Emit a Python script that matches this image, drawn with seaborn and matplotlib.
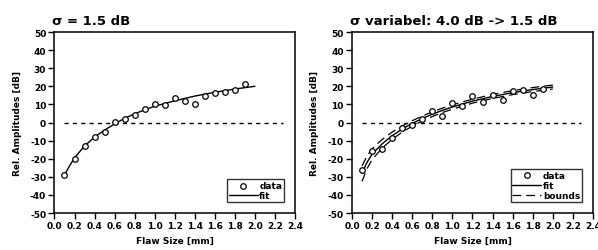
import matplotlib
matplotlib.use('Agg')
import matplotlib.pyplot as plt
import seaborn as sns
import pandas as pd

# measured data (flaw size in mm, relative amplitude in dB)
flaw_size = [0.1, 0.2, 0.3, 0.4, 0.5, 0.6, 0.7, 0.8, 0.9, 1.0,
             1.1, 1.2, 1.3, 1.4, 1.5, 1.6, 1.7, 1.8, 1.9]
amp_left = [-29, -20, -13, -8, -5.3, 0.5, 2.2, 3.9, 7.4, 10,
            9.7, 13.7, 11.7, 10.3, 14.8, 16.1, 17.0, 18.0, 21.5]
amp_right = [-26.3, -15.7, -14.5, -8.7, -3.1, -1.3, 2.2, 6.4, 3.6, 10.7,
             9.0, 14.4, 11.3, 15.0, 12.2, 17.4, 18.0, 15.2, 18.3]

# fit curves
fit_x = [0.1, 0.15, 0.2, 0.3, 0.4, 0.5, 0.6, 0.7, 0.8, 0.9, 1.0,
         1.2, 1.4, 1.6, 1.8, 2.0]
fit_left = [-29, -24, -19.5, -13, -8, -4.2, -0.8, 2.3, 4.8, 7.0, 9.0,
            12.0, 14.6, 16.7, 18.5, 20.0]
fit_right = [-28, -22, -17.5, -11.8, -7.3, -3.6, -0.5, 2.2, 4.6, 6.7, 8.6,
             11.8, 14.4, 16.5, 18.2, 19.6]
bound_hi = [-24, -18.5, -14.5, -9.4, -5.3, -1.9, 1.0, 3.6, 5.9, 7.9, 9.8,
            12.9, 15.5, 17.6, 19.3, 20.7]
bound_lo = [-32.5, -25.5, -20.5, -14.2, -9.3, -5.3, -2.0, 0.8, 3.3, 5.5, 7.4,
            10.7, 13.3, 15.4, 17.1, 18.5]

zero_x = [0.1, 2.28]
zero_y = [0, 0]

titles = ['σ = 1.5 dB', 'σ variabel: 4.0 dB -> 1.5 dB']

sns.set_style('ticks', {'axes.edgecolor': 'black', 'text.color': 'black',
                        'xtick.color': 'black', 'ytick.color': 'black',
                        'axes.labelcolor': 'black'})
plt.rcParams['font.family'] = ['DejaVu Sans']
plt.rcParams['font.weight'] = 'bold'
plt.rcParams['axes.unicode_minus'] = False

fig = plt.figure(figsize=(5.98, 2.51), dpi=100)
ax1 = fig.add_axes([0.0911, 0.1474, 0.4022, 0.7211])
ax2 = fig.add_axes([0.5886, 0.1474, 0.4030, 0.7211])

df_left = pd.DataFrame({'x': flaw_size, 'y': amp_left})
df_right = pd.DataFrame({'x': flaw_size, 'y': amp_right})

for ax, df, fit, title in [(ax1, df_left, fit_left, titles[0]),
                           (ax2, df_right, fit_right, titles[1])]:
    ax.plot(zero_x, zero_y, color='black', lw=1.0, ls=(0, (3, 3)))
    sns.scatterplot(data=df, x='x', y='y', ax=ax, marker='o', s=16,
                    facecolor='white', edgecolor='black', linewidth=0.9,
                    label='data', zorder=3)
    sns.lineplot(x=fit_x, y=fit, ax=ax, color='black', lw=1.0, label='fit',
                 zorder=2)
    ax.set_xlim(0, 2.4)
    ax.set_ylim(-50, 50)
    ax.set_xticks([i * 0.2 for i in range(13)])
    ax.set_xticklabels([f'{i * 0.2:.1f}' for i in range(13)])
    ax.set_yticks(range(-50, 51, 10))
    ax.tick_params(direction='out', length=4, width=1, labelsize=6.5,
                   pad=2, top=False, right=False, colors='black')
    for lab in ax.get_xticklabels() + ax.get_yticklabels():
        lab.set_fontweight('bold')
    for sp in ax.spines.values():
        sp.set_linewidth(1.1)
        sp.set_color('black')
        sp.set_visible(True)
    ax.set_xlabel('Flaw Size [mm]', fontsize=6.5, fontweight='bold', labelpad=4)
    ax.set_ylabel('Rel. Amplitudes [dB]', fontsize=6.5, fontweight='bold',
                  labelpad=6)
    ax.set_title(title, loc='left', fontsize=9.5, fontweight='bold', pad=6,
                 x=-0.01, color='black')

# confidence bounds on right panel
sns.lineplot(x=fit_x, y=bound_hi, ax=ax2, color='black', lw=0.9,
             ls=(0, (7, 4)), label='bounds')
sns.lineplot(x=fit_x, y=bound_lo, ax=ax2, color='black', lw=0.9,
             ls=(0, (7, 4)))

for ax in (ax1, ax2):
    leg = ax.legend(loc='lower right', bbox_to_anchor=(0.955, 0.06),
                    fontsize=6.5, frameon=True, fancybox=False,
                    handlelength=3.2, handletextpad=0.2, borderpad=0.2,
                    labelspacing=0.15, borderaxespad=0)
    leg.get_frame().set_edgecolor('black')
    leg.get_frame().set_linewidth(1.0)
    for t in leg.get_texts():
        t.set_fontweight('bold')
        t.set_color('black')

fig.savefig('out.png', dpi=100)
